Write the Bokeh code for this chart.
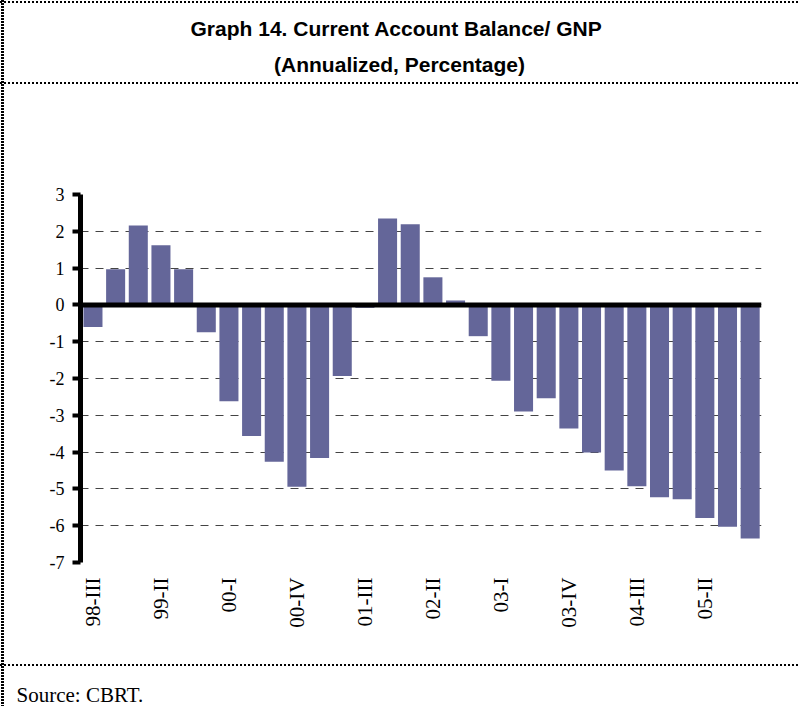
import math
from bokeh.plotting import figure
from bokeh.layouts import column
from bokeh.models import FixedTicker, Span, Range1d, Title
from bokeh.core.properties import value
from bokeh.embed import file_html
from bokeh.resources import INLINE

quarters = ["98-III", "98-IV", "99-I", "99-II", "99-III", "99-IV",
            "00-I", "00-II", "00-III", "00-IV", "01-I", "01-II",
            "01-III", "01-IV", "02-I", "02-II", "02-III", "02-IV",
            "03-I", "03-II", "03-III", "03-IV", "04-I", "04-II",
            "04-III", "04-IV", "05-I", "05-II", "05-III", "05-IV"]
ca_gnp = [-0.60, 0.97, 2.16, 1.62, 0.97, -0.74,
          -2.62, -3.56, -4.26, -4.94, -4.16, -1.93,
          -0.08, 2.35, 2.19, 0.75, 0.12, -0.85,
          -2.06, -2.90, -2.54, -3.36, -4.01, -4.50,
          -4.93, -5.23, -5.28, -5.79, -6.03, -6.35]
y_ticks = [-7, -6, -5, -4, -3, -2, -1, 0, 1, 2, 3]
y_tick_labels = ["-7", "-6", "-5", "-4", "-3", "-2", "-1", "0", "1", "2", "3"]
label_every = 3

title1 = "Graph 14. Current Account Balance/ GNP"
title2 = "(Annualized, Percentage)"
source = "Source: CBRT."

PAGE_W, PAGE_H = 800, 706
TOP_H, BOT_H = 84, 42
MAIN_H = PAGE_H - TOP_H - BOT_H
L, R = 80, 39
T, FH = 110, 368
B = MAIN_H - T - FH

# ---- title panel (page coordinates) ----
top = figure(width=PAGE_W, height=TOP_H, output_backend="svg", toolbar_location=None, title=None,
             x_range=Range1d(L, PAGE_W - R), y_range=Range1d(TOP_H, 0),
             x_axis_type=None, y_axis_type=None,
             min_border_left=L, min_border_right=R, min_border_top=0, min_border_bottom=0,
             background_fill_color=None, border_fill_color=None)
top.outline_line_color = None
top.grid.visible = False
top.text(x=[396], y=[28], text=[title1], text_font=value("Liberation Sans"), text_font_style="bold",
         text_font_size="21px", text_align="center", text_baseline="alphabetic", text_color="black")
top.text(x=[399], y=[64], text=[title2], text_font=value("Liberation Sans"), text_font_style="bold",
         text_font_size="21px", text_align="center", text_baseline="alphabetic", text_color="black")

# ---- main chart ----
idx = list(range(len(quarters)))
p = figure(width=PAGE_W, height=MAIN_H, output_backend="svg", toolbar_location=None, title=None,
           x_range=Range1d(-0.55, 29.5), y_range=Range1d(-7, 3),
           min_border_left=L, min_border_right=R, min_border_top=T, min_border_bottom=B,
           background_fill_color=None, border_fill_color=None)
p.outline_line_color = None

p.vbar(x=idx, top=ca_gnp, bottom=0, width=0.84, fill_color="#646699", line_color=None)
p.add_layout(Span(location=0, dimension="width", line_color="black", line_width=5))

ya = p.yaxis[0]
ya.ticker = FixedTicker(ticks=y_ticks)
ya.major_label_overrides = dict(zip(y_ticks, y_tick_labels))
ya.axis_line_width = 5
ya.axis_line_color = "black"
ya.major_tick_out = 8
ya.major_tick_in = 0
ya.major_tick_line_width = 4
ya.major_tick_line_color = "black"
ya.minor_tick_line_color = None
ya.major_label_text_font = "Liberation Serif"
ya.major_label_text_font_size = "18px"
ya.major_label_text_color = "black"
ya.major_label_standoff = 8

xa = p.xaxis[0]
xt = idx[::label_every]
xa.ticker = FixedTicker(ticks=xt)
xa.major_label_overrides = {i: quarters[i] for i in xt}
xa.axis_line_color = None
xa.major_tick_line_color = None
xa.minor_tick_line_color = None
xa.major_label_orientation = math.pi / 2
xa.major_label_text_font = "Liberation Serif"
xa.major_label_text_font_size = "21px"
xa.major_label_text_color = "black"
xa.major_label_standoff = 9

p.xgrid.grid_line_color = None
p.ygrid.ticker = FixedTicker(ticks=y_ticks)
p.ygrid.grid_line_color = "#444444"
p.ygrid.grid_line_width = 1
p.ygrid.grid_line_dash = "8 7"

# ---- source panel ----
bot = figure(width=PAGE_W, height=BOT_H, output_backend="svg", toolbar_location=None, title=None,
             x_range=Range1d(0, 1), y_range=Range1d(0, 1),
             x_axis_type=None, y_axis_type=None,
             min_border_left=L, min_border_right=R, min_border_top=0, min_border_bottom=0,
             background_fill_color=None, border_fill_color=None)
bot.outline_line_color = None
bot.grid.visible = False
src = Title(text=source, align="left", offset=-64, standoff=0,
            text_font="Liberation Serif", text_font_size="21px", text_font_style="normal",
            text_color="black")
bot.add_layout(src, "below")

# dotted frame lines drawn behind the transparent figures
hdots = "repeating-linear-gradient(to right, #000 0px, #000 2px, transparent 2px, transparent 4px)"
vdots = "repeating-linear-gradient(to bottom, #000 0px, #000 2px, transparent 2px, transparent 3px)"
layout = column(top, p, bot, spacing=0)
layout.styles = {
    "background-color": "white",
    "background-image": ", ".join([vdots, hdots, hdots, hdots]),
    "background-size": "3px 100%, 100% 2px, 100% 2px, 100% 2px",
    "background-position": "1px 0px, 0px 1px, 0px 82px, 0px 664px",
    "background-repeat": "no-repeat",
}

open("out.html", "w").write(file_html(layout, INLINE))
